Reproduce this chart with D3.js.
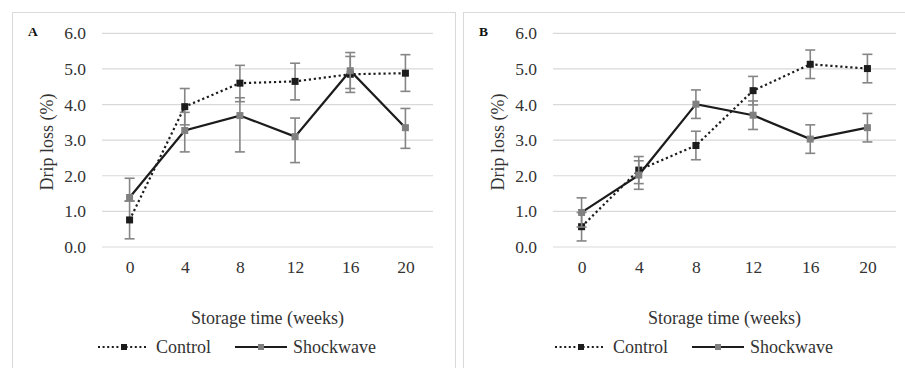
<!DOCTYPE html>
<html>
<head>
<meta charset="utf-8">
<script src="https://cdn.jsdelivr.net/npm/d3@7"></script>
<style>
  body { margin: 0; background: #fff; }
  svg { display: block; font-family: "Liberation Serif", "Times New Roman", serif; }
</style>
</head>
<body>
<div id="chart"></div>
<script>
// storage weeks (categories) and y ticks
const weeks = ['0', '4', '8', '12', '16', '20'];
const yTicks = [0, 1, 2, 3, 4, 5, 6];

// panel A
const controlA = [0.76, 3.94, 4.60, 4.65, 4.85, 4.88];
const controlAErrUp = [0.53, 0.51, 0.50, 0.51, 0.50, 0.52];
const controlAErrDown = [0.53, 0.51, 0.52, 0.52, 0.51, 0.51];
const shockA = [1.39, 3.27, 3.69, 3.10, 4.95, 3.35];
const shockAErrUp = [0.54, 0.51, 0.50, 0.52, 0.51, 0.54];
const shockAErrDown = [0.10, 0.60, 1.02, 0.73, 0.50, 0.58];

// panel B
const controlB = [0.57, 2.16, 2.85, 4.39, 5.13, 5.01];
const controlBErr = [0.40, 0.38, 0.40, 0.40, 0.40, 0.40];
const shockB = [0.97, 2.02, 4.01, 3.70, 3.03, 3.35];
const shockBErr = [0.41, 0.40, 0.40, 0.40, 0.40, 0.40];

const W = 905, H = 368;
const svg = d3.select('#chart').append('svg').attr('width', W).attr('height', H);

const panels = [
  { label: 'A', box: [12, 12, 455, 380], plot: [102, 433],
    control: controlA, cUp: controlAErrUp, cDown: controlAErrDown,
    shock: shockA, sUp: shockAErrUp, sDown: shockAErrDown },
  { label: 'B', box: [463, 12, 930, 380], plot: [553, 896],
    control: controlB, cUp: controlBErr, cDown: controlBErr,
    shock: shockB, sUp: shockBErr, sDown: shockBErr }
];

const grid = '#d9d9d9', errColor = '#858585', dark = '#1c1c1c', grayMark = '#808080';
const yTop = 33.3, yBottom = 247;

panels.forEach(p => {
  const g = svg.append('g');
  g.append('rect')
    .attr('x', p.box[0] + 0.5).attr('y', p.box[1] + 0.5)
    .attr('width', p.box[2] - p.box[0]).attr('height', p.box[3] - p.box[1])
    .attr('fill', 'none').attr('stroke', grid).attr('stroke-width', 1);

  const x = d3.scalePoint().domain(weeks).range(p.plot).padding(0.5);
  const y = d3.scaleLinear().domain([0, 6]).range([yBottom, yTop]);

  // gridlines
  g.append('g').selectAll('line').data(yTicks).enter().append('line')
    .attr('x1', p.plot[0]).attr('x2', p.plot[1])
    .attr('y1', d => y(d)).attr('y2', d => y(d))
    .attr('stroke', grid).attr('stroke-width', 1.2);

  // y axis labels
  const yAxis = d3.axisLeft(y).tickValues(yTicks).tickFormat(d3.format('.1f')).tickSize(0).tickPadding(16);
  const ya = g.append('g').attr('transform', `translate(${p.plot[0]},0)`).call(yAxis);
  ya.select('.domain').remove();
  ya.selectAll('text').attr('font-size', 17.5).attr('fill', '#333')
    .attr('font-family', '"Liberation Serif", serif');

  // x axis labels
  const xAxis = d3.axisBottom(x).tickSize(0).tickPadding(14);
  const xa = g.append('g').attr('transform', `translate(0,${yBottom})`).call(xAxis);
  xa.select('.domain').remove();
  xa.selectAll('text').attr('font-size', 17.5).attr('fill', '#333')
    .attr('font-family', '"Liberation Serif", serif');

  const cx = (p.plot[0] + p.plot[1]) / 2;
  g.append('text').text('Storage time (weeks)')
    .attr('x', cx).attr('y', 324).attr('text-anchor', 'middle')
    .attr('font-size', 18).attr('fill', '#333');
  g.append('text').text('Drip loss (%)')
    .attr('transform', `translate(${p.plot[0] - 49},142) rotate(-90)`)
    .attr('text-anchor', 'middle').attr('font-size', 18).attr('fill', '#333');
  g.append('text').text(p.label)
    .attr('x', p.box[0] + 16).attr('y', 36)
    .attr('font-size', 13.5).attr('font-weight', 'bold').attr('fill', '#111');

  const series = [
    { vals: p.control, up: p.cUp, down: p.cDown, dash: '2.2,2.8', mark: dark },
    { vals: p.shock, up: p.sUp, down: p.sDown, dash: null, mark: grayMark }
  ];
  const line = d3.line().x((d, i) => x(weeks[i])).y(d => y(d));

  series.forEach(s => {
    const eg = g.append('g');
    s.vals.forEach((v, i) => {
      const xx = x(weeks[i]);
      const y1 = y(v + s.up[i]), y2 = y(v - s.down[i]);
      eg.append('line').attr('x1', xx).attr('x2', xx).attr('y1', y1).attr('y2', y2)
        .attr('stroke', errColor).attr('stroke-width', 1.6);
      [y1, y2].forEach(yy => eg.append('line')
        .attr('x1', xx - 5).attr('x2', xx + 5).attr('y1', yy).attr('y2', yy)
        .attr('stroke', errColor).attr('stroke-width', 1.6));
    });
    g.append('path').datum(s.vals).attr('d', line)
      .attr('fill', 'none').attr('stroke', dark).attr('stroke-width', 2.2)
      .attr('stroke-dasharray', s.dash);
    g.append('g').selectAll('rect').data(s.vals).enter().append('rect')
      .attr('x', (d, i) => x(weeks[i]) - 3.5).attr('y', d => y(d) - 3.5)
      .attr('width', 7).attr('height', 7).attr('fill', s.mark);
  });

  // legend
  const lx = cx - 169.5, ly = 347;
  const lg = g.append('g');
  lg.append('line').attr('x1', lx).attr('x2', lx + 50).attr('y1', ly).attr('y2', ly)
    .attr('stroke', dark).attr('stroke-width', 2).attr('stroke-dasharray', '2,2.6');
  lg.append('rect').attr('x', lx + 26 - 3).attr('y', ly - 3).attr('width', 6).attr('height', 6).attr('fill', dark);
  lg.append('text').text('Control').attr('x', lx + 58).attr('y', ly + 6)
    .attr('font-size', 18).attr('fill', '#333');
  lg.append('line').attr('x1', lx + 137).attr('x2', lx + 189).attr('y1', ly).attr('y2', ly)
    .attr('stroke', dark).attr('stroke-width', 2.2);
  lg.append('rect').attr('x', lx + 163 - 3).attr('y', ly - 3).attr('width', 6).attr('height', 6).attr('fill', grayMark);
  lg.append('text').text('Shockwave').attr('x', lx + 195).attr('y', ly + 6)
    .attr('font-size', 18).attr('fill', '#333');
});
</script>
</body>
</html>
